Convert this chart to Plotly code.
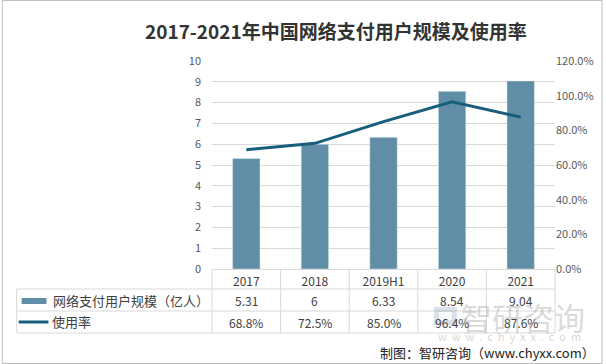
import plotly.graph_objects as go

categories = ["2017", "2018", "2019H1", "2020", "2021"]
users = [5.31, 6, 6.33, 8.54, 9.04]
rate = [68.8, 72.5, 85.0, 96.4, 87.6]
user_labels = ["5.31", "6", "6.33", "8.54", "9.04"]
rate_labels = ["68.8%", "72.5%", "85.0%", "96.4%", "87.6%"]

W, H = 606, 364
L, R, T, B = 212, 48, 61, 95
PW, PH = W - L - R, H - T - B

def px(x):
    return (x - L) / PW

def py(y):
    return (H - B - y) / PH

BAR = "#5f8ea6"
LINE = "#175e7c"
GRID = "#d9d9d9"
TXT = "#404040"
FONT = "Noto Sans CJK SC, Noto Sans, sans-serif"

fig = go.Figure()
fig.add_trace(go.Bar(x=categories, y=users, marker_color=BAR, width=0.4,
                     name="网络支付用户规模（亿人）", showlegend=False))
fig.add_trace(go.Scatter(x=categories, y=[r / 100 for r in rate], yaxis="y2",
                         mode="lines", line=dict(color=LINE, width=3),
                         name="使用率", showlegend=False))

shapes = []
# outer border
shapes.append(dict(type="rect", xref="paper", yref="paper", x0=px(0.5), x1=px(605.5),
                   y0=py(0.5), y1=py(363.5), line=dict(color="#bfbfbf", width=1)))
# table horizontal lines
for yy in [289, 311, 333]:
    shapes.append(dict(type="line", xref="paper", yref="paper", x0=px(15), x1=px(558),
                       y0=py(yy), y1=py(yy), line=dict(color=GRID, width=1)))
# table vertical lines
for i in range(len(categories) + 1):
    xx = L + i * PW / len(categories)
    shapes.append(dict(type="line", xref="paper", yref="paper", x0=px(xx), x1=px(xx),
                       y0=py(269), y1=py(333), line=dict(color=GRID, width=1)))
shapes.append(dict(type="line", xref="paper", yref="paper", x0=px(15), x1=px(15),
                   y0=py(289), y1=py(333), line=dict(color=GRID, width=1)))
# legend icons
shapes.append(dict(type="rect", xref="paper", yref="paper", x0=px(20), x1=px(45),
                   y0=py(304), y1=py(298), fillcolor=BAR, line=dict(width=0)))
shapes.append(dict(type="line", xref="paper", yref="paper", x0=px(17), x1=px(47),
                   y0=py(322), y1=py(322), line=dict(color=LINE, width=3)))
# watermark logo
shapes.append(dict(type="rect", xref="paper", yref="paper", x0=px(436), x1=px(459),
                   y0=py(325), y1=py(307), fillcolor="rgba(150,165,185,0.35)",
                   line=dict(width=0)))
shapes.append(dict(type="rect", xref="paper", yref="paper", x0=px(441), x1=px(454),
                   y0=py(320), y1=py(312), fillcolor="rgba(255,255,255,0.8)",
                   line=dict(width=0)))

ann = []
for i, (ul, rl) in enumerate(zip(user_labels, rate_labels)):
    ann.append(dict(x=i, xref="x", y=py(300), yref="paper", text=ul, showarrow=False,
                    font=dict(size=12, color=TXT, family=FONT), yanchor="middle"))
    ann.append(dict(x=i, xref="x", y=py(322), yref="paper", text=rl, showarrow=False,
                    font=dict(size=12, color=TXT, family=FONT), yanchor="middle"))
ann.append(dict(x=px(50), xref="paper", y=py(300), yref="paper", text="网络支付用户规模（亿人）",
                showarrow=False, xanchor="left", yanchor="middle",
                font=dict(size=13, color=TXT, family=FONT)))
ann.append(dict(x=px(49), xref="paper", y=py(321), yref="paper", text="使用率",
                showarrow=False, xanchor="left", yanchor="middle",
                font=dict(size=13, color=TXT, family=FONT)))
# watermark
ann.append(dict(x=px(461), xref="paper", y=py(316), yref="paper", text="智研咨询",
                showarrow=False, xanchor="left", yanchor="middle",
                font=dict(size=31, color="rgba(150,150,150,0.35)", family=FONT)))
ann.append(dict(x=px(512), xref="paper", y=py(336), yref="paper",
                text="w  w  w  .  c  h  y  x  x  .  c  o  m",
                showarrow=False, xanchor="center", yanchor="middle",
                font=dict(size=11, color="rgba(160,160,160,0.45)", family=FONT)))
# source
ann.append(dict(x=px(600), xref="paper", y=py(352), yref="paper", text="制图：智研咨询（www.chyxx.com）",
                showarrow=False, xanchor="right", yanchor="middle",
                font=dict(size=13, color="#222222", family=FONT)))
# title
ann.append(dict(x=px(337), xref="paper", y=py(30), yref="paper",
                text="<b>2017-2021年中国网络支付用户规模及使用率</b>",
                showarrow=False, xanchor="center", yanchor="middle",
                font=dict(size=19, color="#333333", family=FONT)))

fig.update_layout(
    width=W, height=H,
    margin=dict(l=L, r=R, t=T, b=B),
    paper_bgcolor="white", plot_bgcolor="white",
    font=dict(family=FONT, color="#595959", size=11),
    xaxis=dict(type="category", categoryorder="array", categoryarray=categories,
               range=[-0.5, len(categories) - 0.5], showgrid=False, showline=True,
               linecolor=GRID, ticks="", tickfont=dict(size=12, color=TXT),
               ticklabelstandoff=2),
    yaxis=dict(range=[0, 10], dtick=1, showgrid=True, gridcolor=GRID, zeroline=False,
               ticks="", ticklabelstandoff=10, tickfont=dict(size=11, color="#595959")),
    yaxis2=dict(range=[0, 1.2], dtick=0.2, tickformat=".1%", overlaying="y", side="right",
                showgrid=False, zeroline=False, ticks="", ticklabelstandoff=0,
                tickfont=dict(size=11, color="#595959")),
    shapes=shapes, annotations=ann,
)

fig.write_html("out.html", config={"displayModeBar": False},
               post_script="document.body.style.margin='0';document.body.style.overflow='hidden';")
